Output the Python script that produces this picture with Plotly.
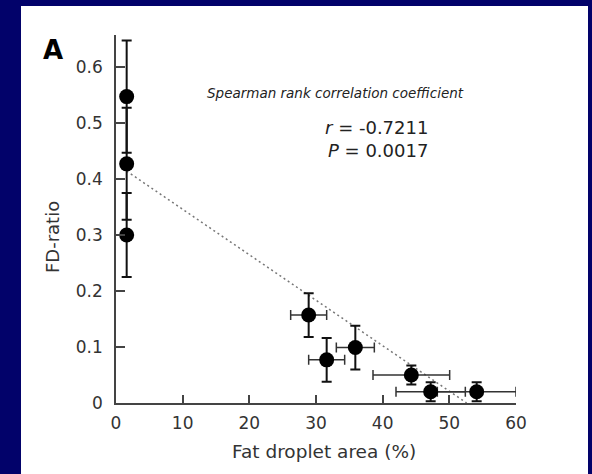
import plotly.graph_objects as go

# ---- data ----
fat_area = [1.6, 1.6, 1.6, 28.9, 31.6, 35.9, 44.3, 47.2, 54.1]
fd_ratio = [0.547, 0.427, 0.300, 0.157, 0.077, 0.099, 0.050, 0.020, 0.020]
fd_err = [0.10, 0.10, 0.075, 0.039, 0.039, 0.039, 0.017, 0.017, 0.017]
area_err = [0, 0, 0, 2.7, 2.7, 2.85, 5.75, 5.2, 5.9]

trend_x = [1.6, 52.6]
trend_y = [0.414, 0.0]

x_ticks = [0, 10, 20, 30, 40, 50, 60]
y_ticks = [0, 0.1, 0.2, 0.3, 0.4, 0.5, 0.6]
y_ticktext = ["0", "0.1", "0.2", "0.3", "0.4", "0.5", "0.6"]

FONT = "DejaVu Sans"
NAVY = "#02026a"
AX = "#444444"
TXT = "#333333"

fig = go.Figure()
fig.add_trace(go.Scatter(
    x=trend_x, y=trend_y, mode="lines",
    line=dict(color="#777777", width=1.5, dash="2px,3px"),
    hoverinfo="skip", showlegend=False))
fig.add_trace(go.Scatter(
    x=fat_area, y=fd_ratio, mode="markers",
    marker=dict(color="black", size=15),
    error_y=dict(type="data", array=fd_err, color="#111111", thickness=2, width=5),
    error_x=dict(type="data", array=area_err, color="#333333", thickness=1.5, width=5),
    showlegend=False))


def ann(text, x, y, size, color=TXT, angle=0):
    return dict(text=text, xref="paper", yref="paper", x=x, y=y,
                xanchor="center", yanchor="middle", showarrow=False,
                textangle=angle, font=dict(family=FONT, size=size, color=color))


fig.update_layout(
    width=592, height=474, autosize=False,
    margin=dict(l=116, r=76, t=35, b=71, pad=0),
    paper_bgcolor=NAVY, plot_bgcolor="white",
    font=dict(family=FONT, color=TXT),
    shapes=[dict(type="rect", xref="paper", yref="paper",
                 x0=-0.2375, x1=1.18, y0=-0.3, y1=1.0788,
                 fillcolor="white", line=dict(width=0), layer="below")],
    xaxis=dict(range=[0, 60], tickvals=x_ticks, ticks="inside", ticklen=8,
               tickwidth=1.5, tickcolor=AX, showline=True, linecolor=AX,
               linewidth=1.5, showgrid=False, zeroline=False,
               ticklabelstandoff=4,
               tickfont=dict(family=FONT, size=17, color=TXT)),
    yaxis=dict(range=[0, 0.657], tickvals=y_ticks, ticktext=y_ticktext,
               ticks="inside", ticklen=9, tickwidth=1.5, tickcolor=AX,
               showline=True, linecolor=AX, linewidth=1.5, showgrid=False,
               zeroline=False, ticklabelstandoff=8,
               tickfont=dict(family=FONT, size=17, color=TXT)),
    annotations=[
        ann("Fat droplet area (%)", 0.52, -0.133, 18.5),
        ann("FD-ratio", -0.16, 0.451, 18, angle=-90),
        ann("<i>Spearman rank correlation coefficient</i>", 0.5475, 0.8424, 13.5, "#222222"),
        ann("<i>r</i> = -0.7211", 0.65, 0.7473, 18, "#222222"),
        ann("<i>P</i> = 0.0017", 0.654, 0.6875, 18, "#222222"),
        ann("<b>A</b>", -0.1575, 0.9592, 26, "black"),
    ],
)

fig.write_html("out.html")
